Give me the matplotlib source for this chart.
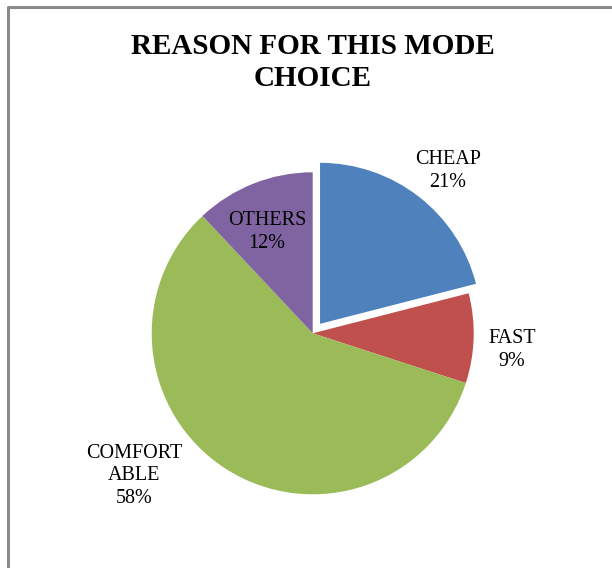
import matplotlib.pyplot as plt
from matplotlib.lines import Line2D

# data
labels = ['CHEAP', 'FAST', 'COMFORT\nABLE', 'OTHERS']
values = [21, 9, 58, 12]
colors = ['#4F81BD', '#C0504D', '#9BBB59', '#8064A2']
explode = [12, 0, 0, 0]   # pie offset is in data units here (radius = 161)

# label positions (pixel units, origin bottom-left)
label_pos = [(448, 397), (512, 218), (134, 92), (267, 336)]

plt.rcParams['font.family'] = ['Liberation Serif', 'DejaVu Serif']

fig = plt.figure(figsize=(6.12, 5.68), dpi=100)
ax = fig.add_axes([0, 0, 1, 1])

wedges, _ = ax.pie(values, colors=colors, explode=explode, startangle=90,
                   counterclock=False, radius=161, center=(312.7, 234.7),
                   wedgeprops=dict(linewidth=0), frame=True)
ax.set_xlim(0, 612)
ax.set_ylim(0, 568)
ax.axis('off')

for lab, v, (x, y) in zip(labels, values, label_pos):
    ax.text(x, y, '%s\n%d%%' % (lab, v), ha='center', va='center',
            fontsize=14.5, linespacing=1.25, color='black')

# title
fig.text(0.511, 0.89, 'REASON FOR THIS MODE\nCHOICE', ha='center', va='center',
         fontsize=21, fontweight='bold', linespacing=1.2)

# chart frame (left and top edges visible)
fig.add_artist(Line2D([7.5/612, 7.5/612, 1], [0, 1-7/568, 1-7/568],
                      transform=fig.transFigure, color='#8a8a8a', lw=2.2))

plt.savefig('out.png', dpi=100)
